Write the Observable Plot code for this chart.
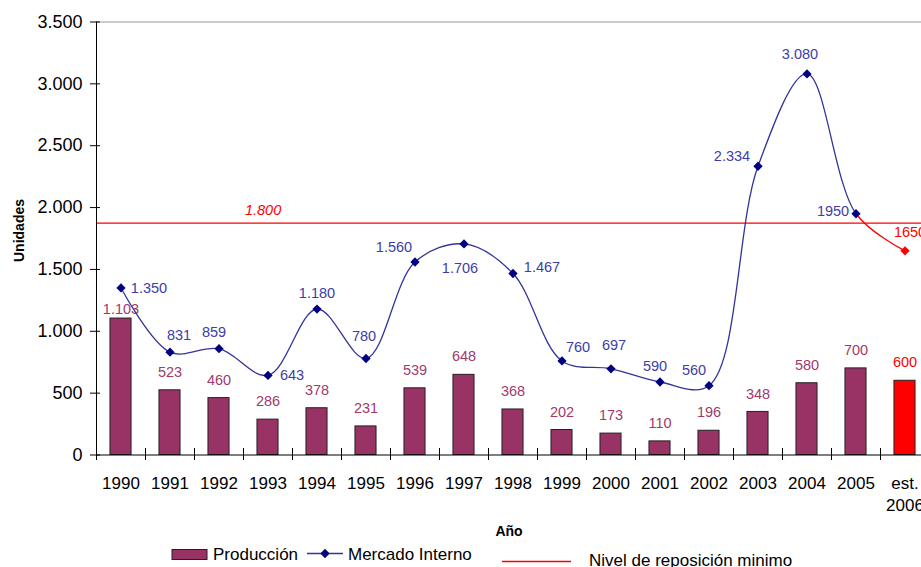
<!DOCTYPE html>
<html><head><meta charset="utf-8">
<script src="https://cdn.jsdelivr.net/npm/d3@7"></script>
<script src="https://cdn.jsdelivr.net/npm/@observablehq/plot@0.6"></script>
<style>
body{margin:0;background:#fff;}
#wrap{position:relative;width:921px;height:567px;overflow:hidden;font-family:"Liberation Sans",Arial,Helvetica,sans-serif;}
#wrap svg{display:block;}
#legend{position:absolute;left:0;top:0;pointer-events:none;}
</style></head><body><div id="wrap"></div>
<script>
// ---- data ----
const years = ["1990","1991","1992","1993","1994","1995","1996","1997","1998","1999","2000","2001","2002","2003","2004","2005","est.\n2006"];
const produccion = [1103,523,460,286,378,231,539,648,368,202,173,110,196,348,580,700,600];
const produccionText = ["1.103","523","460","286","378","231","539","648","368","202","173","110","196","348","580","700","600"];
const mercado = [1350,831,859,643,1180,780,1560,1706,1467,760,697,590,560,2334,3080,1950,1650];
const mercadoText = ["1.350","831","859","643","1.180","780","1.560","1.706","1.467","760","697","590","560","2.334","3.080","1950","1650"];
const yTicks = [0,500,1000,1500,2000,2500,3000,3500];
const yTickText = ["0","500","1.000","1.500","2.000","2.500","3.000","3.500"];
const nivel = 1875;
const nivelText = "1.800";
const legendLabels = ["Producción","Mercado Interno","Nivel de reposición minimo"];

// ---- layout / style ----
const plum = "#993366", red = "#ff0000", navy = "#000080", lineBlue = "#333399";
const mercLabelColor = "#3d3da8", prodLabelColor = "#a03a6a";
const mercDx = [28, 9, -5, 24, 0, -2, -21, -4, 29, 16, 3, -5, -15, -26, -7, -23, 5];
const mercDy = [0, -17, -16, 0, -16, -22, -15, 24, -6, -14, -23, -16, -15, -10, -20, -2, -19];
const prodDy = years.map((d, i) => i === 0 ? -9 : -18);
const idx = years.map((d, i) => i);
const last = years.length - 1;
const boundaries = d3.range(-0.5, years.length - 0.4, 1);

// curve that draws only segments [from, to) of a smoothed (Catmull-Rom) line
function segCurve(from, to) {
  return (context) => {
    let seg = 0, px, py;
    const emit = (draw, x, y) => {
      if (seg >= from && seg < to) {
        if (seg === from && from > 0) context.moveTo(px, py);
        draw();
      }
      px = x; py = y; seg++;
    };
    const proxy = {
      moveTo(x, y) { seg = 0; px = x; py = y; if (from === 0) context.moveTo(x, y); },
      lineTo(x, y) { emit(() => context.lineTo(x, y), x, y); },
      bezierCurveTo(a, b, c, d, x, y) { emit(() => context.bezierCurveTo(a, b, c, d, x, y), x, y); },
      closePath() {}
    };
    return d3.curveCatmullRom.alpha(0.5)(proxy);
  };
}

const mercLabels = idx.map(i => Plot.text([i], {
  x: d => d, y: d => mercado[d], text: d => mercadoText[d],
  dx: mercDx[i], dy: mercDy[i], fontSize: 14.5,
  fill: i === last ? red : mercLabelColor
}));
const prodLabels = idx.map(i => Plot.text([i], {
  x: d => d, y: d => produccion[d], text: d => produccionText[d],
  dy: prodDy[i], fontSize: 14.5,
  fill: i === last ? red : prodLabelColor
}));

const chart = Plot.plot({
  width: 921,
  height: 567,
  marginLeft: 96, marginRight: 0, marginTop: 21, marginBottom: 112,
  style: {fontFamily: '"Liberation Sans", Arial, Helvetica, sans-serif', fontSize: "17px", background: "#fff", color: "#000"},
  x: {type: "linear", domain: [-0.5, years.length - 0.5], range: [96, 929]},
  y: {domain: [0, 3500], range: [454.5, 21.5]},
  color: {type: "identity"},
  marks: [
    Plot.ruleY([3500], {stroke: "#999", strokeWidth: 1.2}),
    Plot.ruleY([nivel], {stroke: red, strokeWidth: 1.2}),
    Plot.text([nivelText], {x: 2.9, y: nivel, text: d => d, dy: -13, fill: red, fontStyle: "italic", fontSize: 14.5}),
    Plot.rect(idx, {
      x1: i => i - 0.215, x2: i => i + 0.215, y1: 0, y2: i => produccion[i],
      fill: i => i === last ? red : plum, stroke: "#222", strokeWidth: 1
    }),
    ...prodLabels,
    Plot.line(idx, {x: i => i, y: i => mercado[i], curve: segCurve(0, last - 1), stroke: lineBlue, strokeWidth: 1.3}),
    Plot.line(idx, {x: i => i, y: i => mercado[i], curve: segCurve(last - 1, last), stroke: red, strokeWidth: 1.3}),
    Plot.dot(idx, {x: i => i, y: i => mercado[i], symbol: "square", rotate: 45, r: 3.7,
      fill: i => i === last ? red : navy, stroke: "none"}),
    ...mercLabels,
    Plot.ruleY([0], {stroke: "#000", strokeWidth: 1}),
    Plot.ruleX([-0.5], {y1: 0, y2: 3500, stroke: "#000", strokeWidth: 1}),
    Plot.axisY(yTicks, {tickSize: 10, dx: 4, tickPadding: 8, fontSize: 18, tickFormat: d => yTickText[yTicks.indexOf(d)], label: null}),
    Plot.axisX(boundaries, {tickSize: 12, dy: -7, tickFormat: () => "", label: null}),
    Plot.text(years, {x: (d, i) => i, y: 0, text: d => d, dy: 18, lineAnchor: "top", lineHeight: 1.3, fontSize: 17}),
    Plot.text(["Año"], {frameAnchor: "bottom", dy: 80, fontWeight: "bold", fontSize: 14}),
    Plot.text(["Unidades"], {frameAnchor: "left", textAnchor: "middle", rotate: -90, dx: -77, dy: -8, fontWeight: "bold", fontSize: 14})
  ]
});

const wrap = document.getElementById("wrap");
wrap.appendChild(chart);

// ---- legend (below the plot area) ----
const lg = d3.select(wrap).append("svg").attr("id", "legend")
  .attr("width", 921).attr("height", 567)
  .style("font-family", '"Liberation Sans", Arial, Helvetica, sans-serif').style("font-size", "17px");
lg.append("rect").attr("x", 172).attr("y", 549.5).attr("width", 35).attr("height", 10).attr("fill", plum).attr("stroke", "#222");
lg.append("text").attr("x", 213).attr("y", 554).attr("dy", "0.35em").text(legendLabels[0]);
lg.append("line").attr("x1", 307).attr("x2", 343).attr("y1", 553.5).attr("y2", 553.5).attr("stroke", lineBlue).attr("stroke-width", 1.3);
lg.append("path").attr("d", d3.symbol(d3.symbolSquare, 3.7 * 3.7 * Math.PI)()).attr("transform", "translate(325,553.5) rotate(45)").attr("fill", navy);
lg.append("text").attr("x", 348).attr("y", 554).attr("dy", "0.35em").text(legendLabels[1]);
lg.append("line").attr("x1", 502).attr("x2", 571).attr("y1", 561.5).attr("y2", 561.5).attr("stroke", "#ff0000").attr("stroke-width", 1.5);
lg.append("text").attr("x", 589).attr("y", 560).attr("dy", "0.35em").text(legendLabels[2]);
</script>
</body></html>
